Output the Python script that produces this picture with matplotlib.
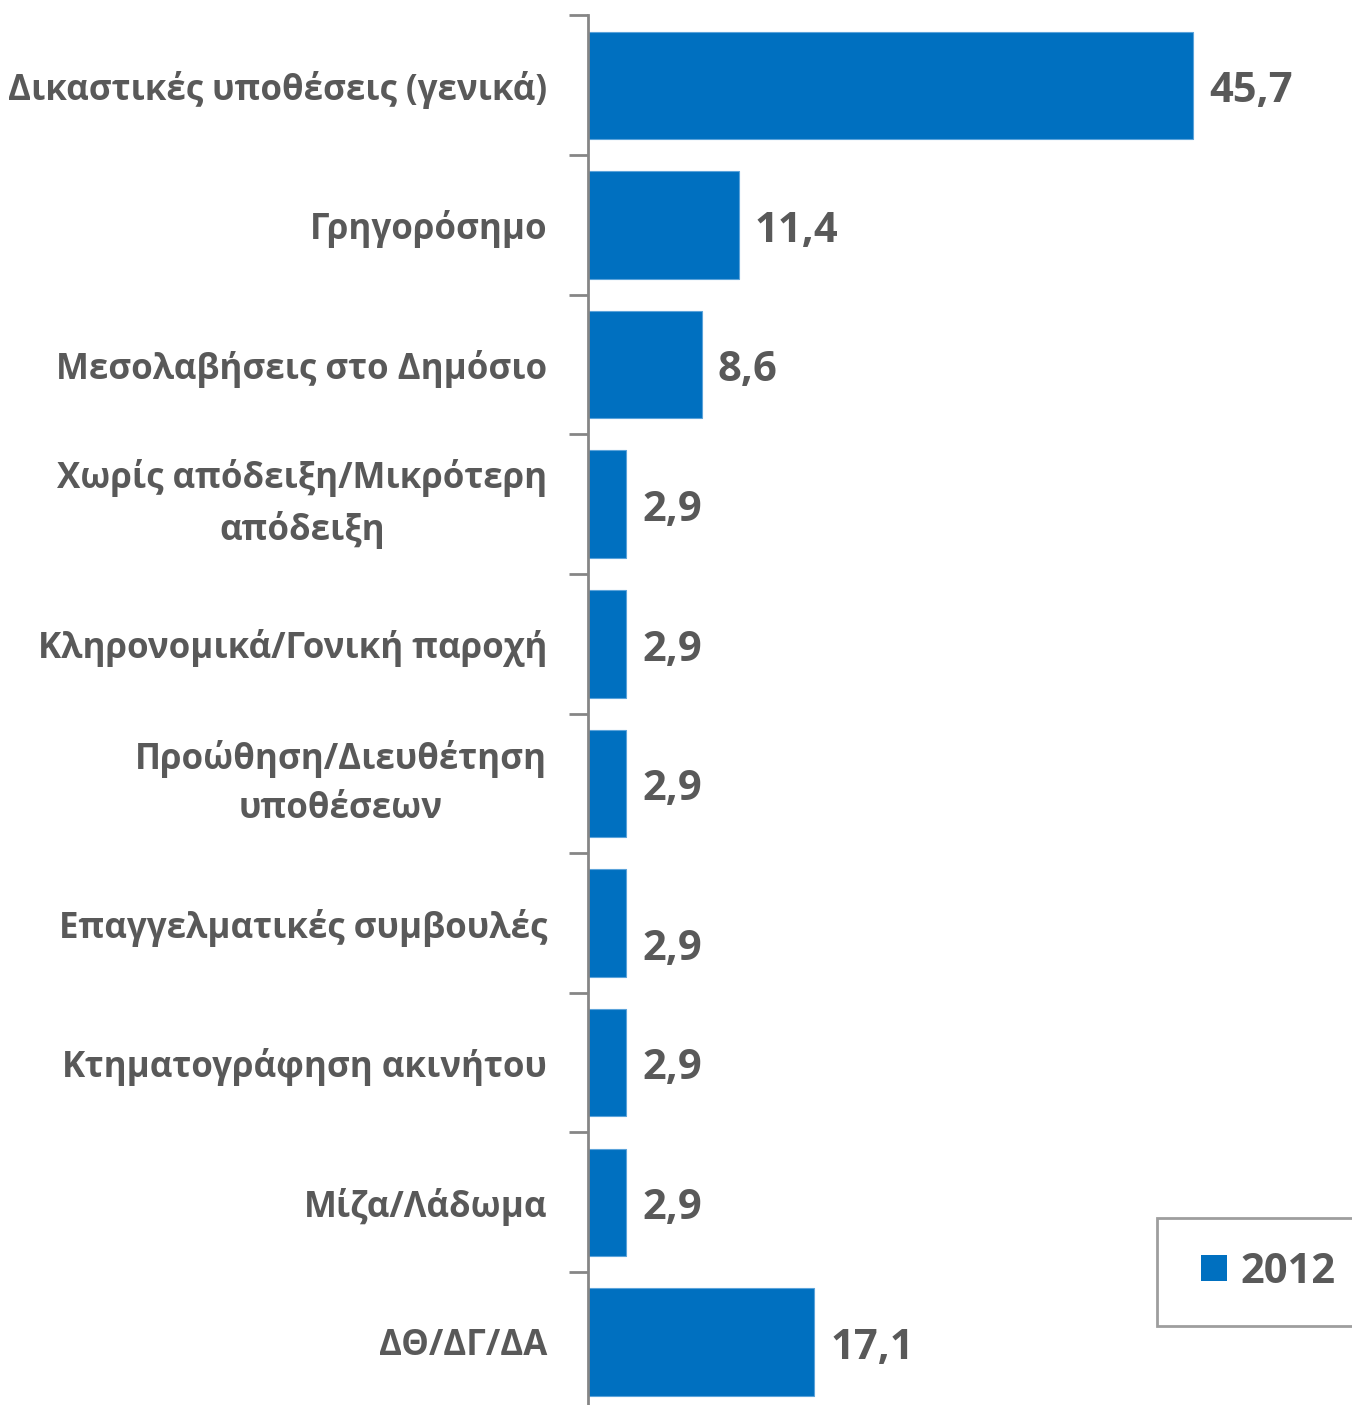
import matplotlib.pyplot as plt
from matplotlib.lines import Line2D

categories = [
    'Δικαστικές υποθέσεις (γενικά)',
    'Γρηγορόσημο',
    'Μεσολαβήσεις στο Δημόσιο',
    'Χωρίς απόδειξη/Μικρότερη\nαπόδειξη',
    'Κληρονομικά/Γονική παροχή',
    'Προώθηση/Διευθέτηση\nυποθέσεων',
    'Επαγγελματικές συμβουλές',
    'Κτηματογράφηση ακινήτου',
    'Μίζα/Λάδωμα',
    'ΔΘ/ΔΓ/ΔΑ',
]
values = [45.7, 11.4, 8.6, 2.9, 2.9, 2.9, 2.9, 2.9, 2.9, 17.1]
value_labels = ['45,7', '11,4', '8,6', '2,9', '2,9', '2,9', '2,9', '2,9', '2,9', '17,1']
series_name = '2012'

plt.rcParams['font.family'] = ['Open Sans', 'DejaVu Sans']
text_color = '#595959'
bar_color = '#0070C0'

fig = plt.figure(figsize=(13.52, 14.05), dpi=100)
ax = fig.add_axes([588 / 1352, -0.0048, 1 - 588 / 1352, 0.9938])

y = list(range(len(categories)))
ax.barh(y, values, height=0.77, color=bar_color, edgecolor='#5BA3DA', linewidth=0.8)
ax.set_ylim(len(categories) - 0.5, -0.5)
ax.set_xlim(0, 57.7)

for i, (v, lab) in enumerate(zip(values, value_labels)):
    dy = 0.19 if i == 6 else 0.045
    ax.text(v + 1.2, i + dy, lab, va='center', ha='left', fontsize=30,
            fontweight='bold', color=text_color)

ax.set_yticks(y)
ax.set_yticklabels(categories, fontsize=25.1, fontweight='bold', color=text_color,
                   linespacing=1.5, ha='right', multialignment='center')
for t in ax.get_yticklabels():
    if '\n' in t.get_text():
        t.set_va('center')
ax.tick_params(axis='y', length=0, pad=29.5)
ax.set_yticks([i + 0.5 for i in range(len(categories) - 1)] + [-0.5], minor=True)
ax.tick_params(axis='y', which='minor', length=14, width=2, color='#868686')

ax.set_xticks([])
for s in ['top', 'right', 'bottom']:
    ax.spines[s].set_visible(False)
ax.spines['left'].set_color('#868686')
ax.spines['left'].set_linewidth(2)

handle = Line2D([], [], linestyle='none', marker='s', markersize=19.4,
                markerfacecolor=bar_color, markeredgewidth=0, label=series_name)
leg = ax.legend(handles=[handle], loc='lower left', bbox_to_anchor=(1157 / 1352, 79 / 1405),
                bbox_transform=fig.transFigure, prop={'size': 30, 'weight': 'bold'},
                frameon=True, fancybox=False, edgecolor='#868686', handlelength=1.13,
                handletextpad=0.07, borderpad=0.8, borderaxespad=0)
leg.get_frame().set_linewidth(2)
for t in leg.get_texts():
    t.set_color(text_color)

fig.savefig('out.png', dpi=100)
